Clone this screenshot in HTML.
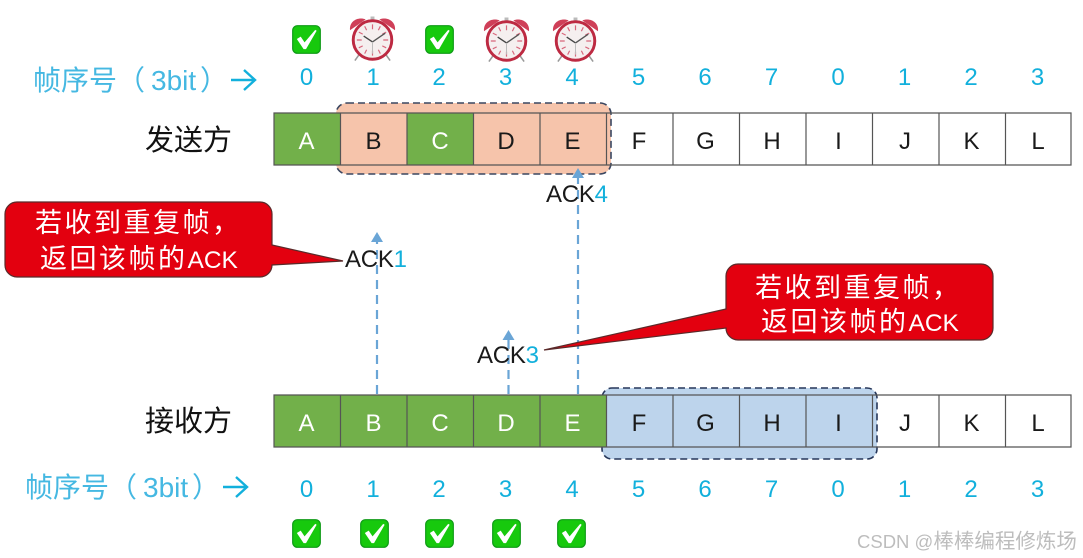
<!DOCTYPE html>
<html><head><meta charset="utf-8"><style>
html,body{margin:0;padding:0;background:#fff;width:1083px;height:558px;overflow:hidden}
svg{display:block;filter:blur(0.35px)}
text{font-family:"Liberation Sans","Noto Sans CJK SC",sans-serif}
.n{font-size:24px;fill:#12b0dc;text-anchor:middle}
.l{font-size:24px;text-anchor:middle;fill:#1a1a1a}
.w{fill:#fff}
.h{font-size:29px;fill:#111}
.s{font-size:28px;fill:#45b8e2}
.a{font-size:24px;fill:#1a1a1a}
.a tspan{fill:#12b0dc}
.c{font-size:27px;fill:#fff;letter-spacing:2.5px}
.c tspan{font-size:24.5px;letter-spacing:0}
</style></head><body>
<svg width="1083" height="558" viewBox="0 0 1083 558" xmlns="http://www.w3.org/2000/svg">
<defs>
<symbol id="chk" viewBox="0 0 30 30" overflow="visible">
<rect x="0.7" y="0.7" width="28.6" height="28.6" rx="5" fill="#17c90d" stroke="#0e9a16" stroke-width="1.2"/>
<path d="M5 14.5 L9 12 L13 18 L24 5 L25.500 6 L14.500 25 L12 25Z" fill="#fff"/>
</symbol>
<symbol id="clk" viewBox="0 0 46 46" overflow="visible">
<path d="M10 38 L5 45 M36 38 L41 45" stroke="#999" stroke-width="1.6"/>
<rect x="21" y="0" width="4" height="4" fill="#bbb"/>
<path d="M0 14 C-1 4 9 0 16 3 Z" fill="#cf3f58"/>
<path d="M46 14 C47 4 37 0 30 3 Z" fill="#cf3f58"/>
<circle cx="23" cy="24" r="19.7" fill="#f5efef" stroke="#bd2a42" stroke-width="3"/>
<g stroke="#d8667b" stroke-width="1.2">
<path d="M23 8v5M23 35v5M7 24h5M34 24h5M15 10l2 4M31 10l-2 4M15 38l2-4M31 38l-2-4M9 16l4 2M37 16l-4 2M9 32l4-2M37 32l-4-2"/>
</g>
<path d="M23 26 L14 20" stroke="#444" stroke-width="1.4"/>
<path d="M23 26 L36 17" stroke="#555" stroke-width="1.4"/>
<path d="M23 26 L23 38" stroke="#bbb" stroke-width="1"/>
</symbol>
</defs>

<!-- top icons -->
<use href="#chk" x="292" y="25" width="29" height="29"/>
<use href="#chk" x="425" y="25" width="29" height="29"/>
<use href="#clk" x="350" y="16" width="45" height="46"/>
<use href="#clk" x="484" y="17" width="45" height="46"/>
<use href="#clk" x="553" y="17" width="45" height="46"/>

<!-- top labels -->
<text class="s" x="33" y="90">帧序号（</text><text class="s" x="151" y="90">3bit</text><text class="s" x="200" y="90">）</text>
<path d="M231 80H254M244 70L255 80L244 90" fill="none" stroke="#12b0dc" stroke-width="2.4"/>
<g class="nums">
<text class="n" x="306.500" y="85">0</text><text class="n" x="373" y="85">1</text><text class="n" x="439" y="85">2</text><text class="n" x="505.500" y="85">3</text><text class="n" x="572" y="85">4</text><text class="n" x="638.500" y="85">5</text><text class="n" x="705" y="85">6</text><text class="n" x="771.500" y="85">7</text><text class="n" x="838" y="85">0</text><text class="n" x="904.500" y="85">1</text><text class="n" x="971" y="85">2</text><text class="n" x="1037.500" y="85">3</text>
</g>
<text class="h" x="145" y="150">发送方</text>

<!-- sender row -->
<rect x="336" y="103" width="275" height="71" rx="11" fill="#f6c4ab"/>
<rect x="336" y="103" width="275" height="71" rx="11" fill="none" stroke="#3a4660" stroke-width="1.6" stroke-dasharray="7 4"/>
<rect x="274" y="113" width="66.500" height="52" fill="#72b04a"/>
<rect x="407" y="113" width="66.500" height="52" fill="#72b04a"/>
<g fill="none" stroke="#555" stroke-width="1.2">
<path d="M274 113H1071V165H274ZM340.500 113V165M407 113V165M473.500 113V165M540 113V165M606.500 113V165M673 113V165M739.500 113V165M806 113V165M872.500 113V165M939 113V165M1005.500 113V165"/>
</g>
<text class="l w" x="306.500" y="149">A</text><text class="l" x="373.500" y="149">B</text><text class="l w" x="440" y="149">C</text><text class="l" x="506" y="149">D</text><text class="l" x="572.500" y="149">E</text><text class="l" x="639" y="149">F</text><text class="l" x="705.500" y="149">G</text><text class="l" x="772" y="149">H</text><text class="l" x="838.500" y="149">I</text><text class="l" x="905" y="149">J</text><text class="l" x="971.500" y="149">K</text><text class="l" x="1038" y="149">L</text>

<!-- receiver row -->
<text class="h" x="145" y="431">接收方</text>
<rect x="602" y="388" width="275" height="71" rx="10" fill="#bdd4ec"/>
<rect x="602" y="388" width="275" height="71" rx="10" fill="none" stroke="#27375a" stroke-width="1.6" stroke-dasharray="7 4"/>
<rect x="274" y="395" width="332.500" height="52" fill="#72b04a"/>
<g fill="none" stroke="#555" stroke-width="1.2">
<path d="M274 395H1071V447H274ZM340.500 395V447M407 395V447M473.500 395V447M540 395V447M606.500 395V447M673 395V447M739.500 395V447M806 395V447M872.500 395V447M939 395V447M1005.500 395V447"/>
</g>
<text class="l w" x="306.500" y="431">A</text><text class="l w" x="373.500" y="431">B</text><text class="l w" x="440" y="431">C</text><text class="l w" x="506" y="431">D</text><text class="l w" x="572.500" y="431">E</text><text class="l" x="639" y="431">F</text><text class="l" x="705.500" y="431">G</text><text class="l" x="772" y="431">H</text><text class="l" x="838.500" y="431">I</text><text class="l" x="905" y="431">J</text><text class="l" x="971.500" y="431">K</text><text class="l" x="1038" y="431">L</text>

<!-- bottom labels -->
<text class="s" x="25" y="497">帧序号（</text><text class="s" x="143" y="497">3bit</text><text class="s" x="192" y="497">）</text>
<path d="M223 487H246M236 477L247 487L236 497" fill="none" stroke="#12b0dc" stroke-width="2.4"/>
<text class="n" x="306.500" y="497">0</text><text class="n" x="373" y="497">1</text><text class="n" x="439" y="497">2</text><text class="n" x="505.500" y="497">3</text><text class="n" x="572" y="497">4</text><text class="n" x="638.500" y="497">5</text><text class="n" x="705" y="497">6</text><text class="n" x="771.500" y="497">7</text><text class="n" x="838" y="497">0</text><text class="n" x="904.500" y="497">1</text><text class="n" x="971" y="497">2</text><text class="n" x="1037.500" y="497">3</text>
<use href="#chk" x="292" y="519" width="29" height="29"/>
<use href="#chk" x="360" y="519" width="29" height="29"/>
<use href="#chk" x="425" y="519" width="29" height="29"/>
<use href="#chk" x="492" y="519" width="29" height="29"/>
<use href="#chk" x="557" y="519" width="29" height="29"/>

<!-- dashed arrows -->
<g stroke="#6aa5d6" stroke-width="2.2" stroke-dasharray="9 6" fill="none">
<path d="M377 394V240"/>
<path d="M508.500 394V340"/>
<path d="M578 394V178"/>
</g>
<g fill="#6aa5d6">
<path d="M377 232l-6 10h12z"/>
<path d="M508.500 330l-6 10h12z"/>
<path d="M578 168l-6 10h12z"/>
</g>

<!-- ACK labels -->
<text class="a" x="345" y="267" textLength="62">ACK<tspan>1</tspan></text>
<text class="a" x="546" y="202" textLength="62">ACK<tspan>4</tspan></text>
<text class="a" x="477" y="363" textLength="62">ACK<tspan>3</tspan></text>

<!-- callouts -->
<path d="M17 202H260A12 12 0 0 1 272 214V245L343 261L272 265A12 12 0 0 1 260 277H17A12 12 0 0 1 5 265V214A12 12 0 0 1 17 202Z" fill="#e3000f" stroke="#5a2a2a" stroke-width="1.2"/>
<text class="c" x="35" y="232">若收到重复帧，</text>
<text class="c" x="40" y="268">返回该帧的<tspan>ACK</tspan></text>
<path d="M738 264H981A12 12 0 0 1 993 276V328A12 12 0 0 1 981 340H738A12 12 0 0 1 726 328L544 350L726 309V276A12 12 0 0 1 738 264Z" fill="#e3000f" stroke="#5a2a2a" stroke-width="1.2"/>
<text class="c" x="755" y="297">若收到重复帧，</text>
<text class="c" x="761" y="331">返回该帧的<tspan>ACK</tspan></text>

<!-- watermark -->
<text x="857" y="548" font-size="18.500" fill="#bdbdbd">CSDN @<tspan font-size="20.500">棒棒编程修炼场</tspan></text>
</svg>
</body></html>
